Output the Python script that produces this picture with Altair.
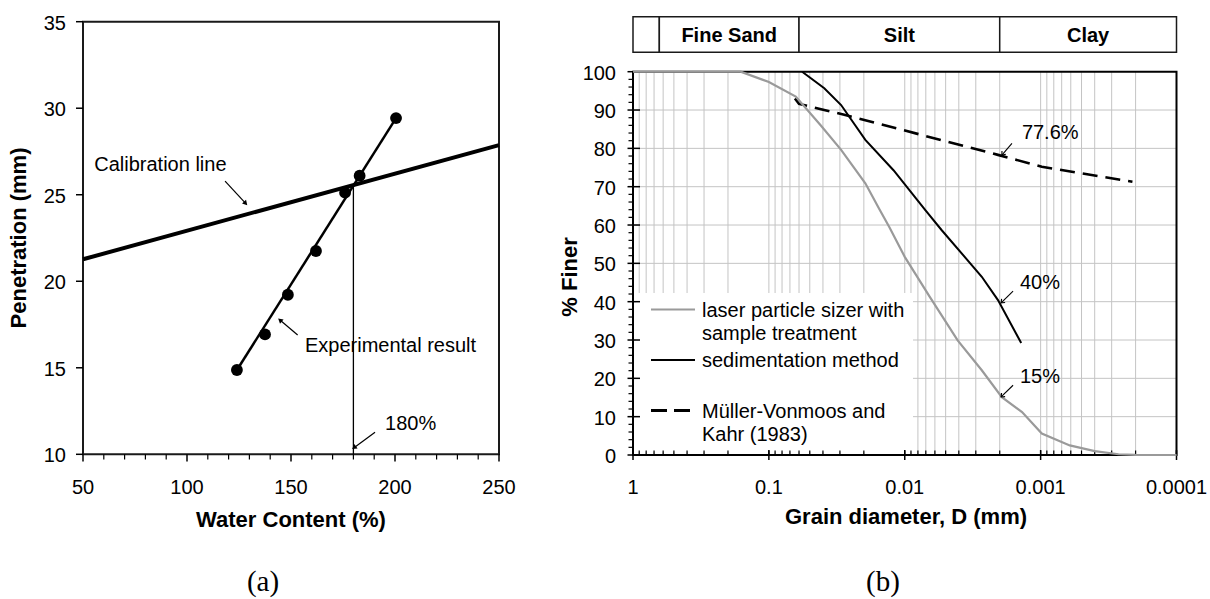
import altair as alt
import pandas as pd

FONT = "Liberation Sans"
SERIF = "Liberation Serif"

# ---------------- panel (a) data ----------------
exp_water = [124.0, 137.5, 148.5, 162.0, 176.0, 183.0, 200.5]
exp_pen = [14.87, 16.93, 19.22, 21.75, 25.12, 26.10, 29.43]
fit_water = [124.0, 200.5]
fit_pen = [14.87, 29.43]
cal_water = [50, 250]
cal_pen = [21.27, 27.87]
ll_water = 180
ll_pen = [10, 25.56]
a_xticks = [50, 100, 150, 200, 250]
a_xminor = [v for v in range(60, 250, 10) if v % 50 != 0]
a_yticks = [10, 15, 20, 25, 30, 35]
a_text = ["Calibration line", "Experimental result", "180%"]
a_text_x = [55.4, 156.7, 195.2]
a_text_y = [26.72, 16.27, 11.75]
a_arrow_x0 = [118.3, 153.2, 190.4]
a_arrow_y0 = [25.79, 16.89, 11.27]
a_arrow_x1 = [128.2, 144.7, 180.3]
a_arrow_y1 = [24.50, 17.76, 10.38]
a_arrow_ang = [47, 220, 144]

# ---------------- panel (b) data ----------------
laser_d = [1.0, 0.1614, 0.1, 0.0634, 0.0413, 0.0294, 0.0195, 0.0154, 0.013, 0.01,
           0.00656, 0.00408, 0.00271, 0.00193, 0.00137, 0.00098, 0.00061, 0.0004,
           0.000267, 0.0002, 0.0001]
laser_p = [100, 100, 97.3, 93.5, 85.9, 79.6, 70.9, 64.2, 59.5, 51.7,
           41.3, 29.9, 22.1, 15.1, 11.2, 5.6, 2.5, 1.0, 0.2, 0.05, 0]
sed_d = [0.0569, 0.0391, 0.0294, 0.0195, 0.0121, 0.00703, 0.00536, 0.00271, 0.00206, 0.00139]
sed_p = [100, 95.7, 91.3, 82.2, 74.3, 63.8, 58.7, 46.5, 40.4, 29.2]
mv_d = [0.0643, 0.060, 0.0274, 0.00206, 0.00098, 0.000211]
mv_p = [93.0, 91.6, 88.7, 78.3, 75.2, 71.3]

b_decades = [1, 0.1, 0.01, 0.001, 0.0001]
b_decade_labels = ["1", "0.1", "0.01", "0.001", "0.0001"]
b_yticks = list(range(0, 101, 10))
b_yminor = [v for v in range(2, 100, 2) if v % 10 != 0]
b_grid_x = [k * 10.0 ** e for e in (-4, -3, -2, -1) for k in range(1, 10)][1:]
b_grid_y = list(range(10, 100, 10))
b_subdiv = [k * 10.0 ** e for e in (-4, -3, -2, -1, 0) for k in range(1, 10) if k * 10.0 ** e <= 1]

band_names = ["", "Fine Sand", "Silt", "Clay"]
band_lo = [1.0, 0.64, 0.06, 0.002]
band_hi = [0.64, 0.06, 0.002, 0.0001]

b_text = ["77.6%", "40%", "15%"]
b_text_x = [0.001374, 0.00142, 0.00142]
b_text_y = [84.1, 44.75, 20.37]
b_arrow_x0 = [0.001626, 0.001595, 0.001595]
b_arrow_y0 = [81.3, 42.74, 18.2]
b_arrow_x1 = [0.001928, 0.001954, 0.001954]
b_arrow_y1 = [78.25, 39.69, 15.14]
b_arrow_ang = [130, 136, 136]

legend_lines = ["laser particle sizer with", "sample treatment", "sedimentation method",
                "Müller-Vonmoos and", "Kahr (1983)"]

# ---------------- scales ----------------
xa = alt.Scale(domain=[50, 250], range=[83, 499], nice=False, zero=False)
ya = alt.Scale(domain=[10, 35], range=[454.3, 21.7], nice=False, zero=False)
xb = alt.Scale(type="log", domain=[0.0001, 1], range=[1176.5, 633], nice=False)
yb = alt.Scale(domain=[0, 100], range=[455, 71.7], nice=False, zero=False)


def XA(f):
    return alt.X(f, type="quantitative", scale=xa, axis=None)


def YA(f):
    return alt.Y(f, type="quantitative", scale=ya, axis=None)


def XB(f):
    return alt.X(f, type="quantitative", scale=xb, axis=None)


def YB(f):
    return alt.Y(f, type="quantitative", scale=yb, axis=None)


def one(t=""):
    return pd.DataFrame({"t": [t]})


def title_text(t, px, py, angle=0):
    kw = dict(font=FONT, fontSize=22, fontWeight="bold", color="black",
              align="center", baseline="middle")
    if angle:
        kw["angle"] = angle
    return alt.Chart(one(t)).mark_text(**kw).encode(
        x=alt.value(px), y=alt.value(py), text="t:N")


# ---------------- panel (a) layers ----------------
frame_a = alt.Chart(pd.DataFrame({"x": [50], "x2": [250], "y": [10], "y2": [35]})).mark_rect(
    filled=False, stroke="#1a1a1a", strokeWidth=2
).encode(x=XA("x"), x2="x2", y=YA("y"), y2="y2")

minor_a = alt.Chart(pd.DataFrame({"x": a_xminor})).mark_rule(color="black", strokeWidth=1.2).encode(
    x=XA("x"), y=alt.value(454.3), y2=alt.value(459.5))
major_ax = alt.Chart(pd.DataFrame({"x": a_xticks})).mark_rule(color="black", strokeWidth=1.5).encode(
    x=XA("x"), y=alt.value(454.3), y2=alt.value(461.5))
major_ay = alt.Chart(pd.DataFrame({"y": a_yticks})).mark_rule(color="black", strokeWidth=1.5).encode(
    y=YA("y"), x=alt.value(76), x2=alt.value(83))
lab_ax = alt.Chart(pd.DataFrame({"v": a_xticks, "t": [str(v) for v in a_xticks]})).mark_text(
    font=FONT, fontSize=20, color="black", align="center", baseline="middle").encode(
    x=XA("v"), y=alt.value(488), text="t:N")
lab_ay = alt.Chart(pd.DataFrame({"v": a_yticks, "t": [str(v) for v in a_yticks]})).mark_text(
    font=FONT, fontSize=20, color="black", align="right", baseline="middle", dy=2).encode(
    y=YA("v"), x=alt.value(66), text="t:N")
title_ax = title_text("Water Content (%)", 291, 520.3)
title_ay = title_text("Penetration (mm)", 18.8, 238, angle=270)

cal = alt.Chart(pd.DataFrame({"x": cal_water, "y": cal_pen})).mark_line(
    color="black", strokeWidth=4).encode(x=XA("x"), y=YA("y"))

vline = alt.Chart(pd.DataFrame({"x": [ll_water], "y": [ll_pen[0]], "y2": [ll_pen[1]]})).mark_rule(
    color="black", strokeWidth=1.3).encode(x=XA("x"), y=YA("y"), y2="y2")

fit = alt.Chart(pd.DataFrame({"x": fit_water, "y": fit_pen})).mark_line(
    color="black", strokeWidth=2.5).encode(x=XA("x"), y=YA("y"))

pts = alt.Chart(pd.DataFrame({"x": exp_water, "y": exp_pen})).mark_circle(
    size=140, color="black", opacity=1).encode(x=XA("x"), y=YA("y"))

txt_a = alt.Chart(pd.DataFrame({"x": a_text_x, "y": a_text_y, "t": a_text})).mark_text(
    align="left", baseline="middle", font=FONT, fontSize=20, color="black"
).encode(x=XA("x"), y=YA("y"), text="t:N")

arr_df_a = pd.DataFrame({"x0": a_arrow_x0, "y0": a_arrow_y0, "x1": a_arrow_x1,
                         "y1": a_arrow_y1, "ang": a_arrow_ang})
arr_a = alt.Chart(arr_df_a).mark_rule(color="black", strokeWidth=1.2).encode(
    x=XA("x0"), y=YA("y0"), x2="x1", y2="y1")
head_a = alt.Chart(arr_df_a).mark_point(shape="triangle-right", filled=True, size=30,
                                        color="black", opacity=1).encode(
    x=XA("x1"), y=YA("y1"), angle=alt.Angle("ang:Q", scale=None))

panel_a = alt.layer(frame_a, minor_a, major_ax, major_ay, lab_ax, lab_ay, title_ax, title_ay,
                    cal, vline, fit, pts, txt_a, arr_a, head_a)

# ---------------- panel (b) layers ----------------
gridv = alt.Chart(pd.DataFrame({"x": b_grid_x})).mark_rule(color="#c4c4c4", strokeWidth=1).encode(
    x=XB("x"), y=alt.value(71.7), y2=alt.value(455))
gridh = alt.Chart(pd.DataFrame({"y": b_grid_y})).mark_rule(color="#c4c4c4", strokeWidth=1).encode(
    y=YB("y"), x=alt.value(633), x2=alt.value(1176.5))

leg_bg = alt.Chart(one()).mark_rect(color="white").encode(
    x=alt.value(636), x2=alt.value(913), y=alt.value(293), y2=alt.value(452))

frame_b = alt.Chart(pd.DataFrame({"x": [1.0], "x2": [0.0001], "y": [0], "y2": [100]})).mark_rect(
    filled=False, stroke="black", strokeWidth=2).encode(x=XB("x"), x2="x2", y=YB("y"), y2="y2")

minor_bx = alt.Chart(pd.DataFrame({"x": b_subdiv})).mark_rule(color="black", strokeWidth=1.2).encode(
    x=XB("x"), y=alt.value(450.5), y2=alt.value(455))
major_bx = alt.Chart(pd.DataFrame({"x": b_decades})).mark_rule(color="black", strokeWidth=1.5).encode(
    x=XB("x"), y=alt.value(450), y2=alt.value(460))
minor_by = alt.Chart(pd.DataFrame({"y": b_yminor})).mark_rule(color="black", strokeWidth=1.2).encode(
    y=YB("y"), x=alt.value(628.5), x2=alt.value(633))
major_by = alt.Chart(pd.DataFrame({"y": b_yticks})).mark_rule(color="black", strokeWidth=1.5).encode(
    y=YB("y"), x=alt.value(627.5), x2=alt.value(640))
lab_bx = alt.Chart(pd.DataFrame({"v": b_decades, "t": b_decade_labels})).mark_text(
    font=FONT, fontSize=20, color="black", align="center", baseline="middle").encode(
    x=XB("v"), y=alt.value(487.5), text="t:N")
lab_by = alt.Chart(pd.DataFrame({"v": b_yticks, "t": [str(v) for v in b_yticks]})).mark_text(
    font=FONT, fontSize=20, color="black", align="right", baseline="middle", dy=2).encode(
    y=YB("v"), x=alt.value(616), text="t:N")
title_bx = title_text("Grain diameter, D (mm)", 906, 517.3)
title_by = title_text("% Finer", 570.3, 277, angle=270)

laser = alt.Chart(pd.DataFrame({"x": laser_d, "y": laser_p, "i": range(len(laser_d))})).mark_line(
    color="#9a9a9a", strokeWidth=2.2).encode(x=XB("x"), y=YB("y"), order="i:Q")
sed = alt.Chart(pd.DataFrame({"x": sed_d, "y": sed_p, "i": range(len(sed_d))})).mark_line(
    color="black", strokeWidth=2).encode(x=XB("x"), y=YB("y"), order="i:Q")
mv = alt.Chart(pd.DataFrame({"x": mv_d, "y": mv_p, "i": range(len(mv_d))})).mark_line(
    color="black", strokeWidth=2.6, strokeDash=[15, 8]).encode(x=XB("x"), y=YB("y"), order="i:Q")

txt_b = alt.Chart(pd.DataFrame({"x": b_text_x, "y": b_text_y, "t": b_text})).mark_text(
    align="left", baseline="middle", font=FONT, fontSize=20, color="black"
).encode(x=XB("x"), y=YB("y"), text="t:N")
arr_df_b = pd.DataFrame({"x0": b_arrow_x0, "y0": b_arrow_y0, "x1": b_arrow_x1,
                         "y1": b_arrow_y1, "ang": b_arrow_ang})
arr_b = alt.Chart(arr_df_b).mark_rule(color="black", strokeWidth=1.1).encode(
    x=XB("x0"), y=YB("y0"), x2="x1", y2="y1")
head_b = alt.Chart(arr_df_b).mark_point(shape="M -1 -0.8 L 0 0 L -1 0.8", filled=False,
                                        size=40, color="black", strokeWidth=1.1,
                                        opacity=1).encode(
    x=XB("x1"), y=YB("y1"), angle=alt.Angle("ang:Q", scale=None))

band_df = pd.DataFrame({"lo": band_lo, "hi": band_hi, "name": band_names,
                        "mid": [(a * b) ** 0.5 for a, b in zip(band_lo, band_hi)]})
band = alt.Chart(band_df).mark_rect(fill="white", stroke="#1a1a1a", strokeWidth=1.5).encode(
    x=XB("lo"), x2="hi", y=alt.value(16.7), y2=alt.value(52.3))
band_txt = alt.Chart(band_df).mark_text(font=FONT, fontSize=20, fontWeight="bold",
                                        color="black", baseline="middle").encode(
    x=XB("mid"), y=alt.value(36), text="name:N")

# custom legend
leg_sym = [
    alt.Chart(one()).mark_rule(color="#9a9a9a", strokeWidth=2.2).encode(
        x=alt.value(651), x2=alt.value(695), y=alt.value(309.5)),
    alt.Chart(one()).mark_rule(color="black", strokeWidth=2).encode(
        x=alt.value(651), x2=alt.value(695), y=alt.value(360)),
    alt.Chart(one()).mark_rule(color="black", strokeWidth=3, strokeDash=[16, 7]).encode(
        x=alt.value(651), x2=alt.value(695), y=alt.value(410.5)),
]
leg_y = [310.5, 333.5, 361, 411.5, 434.5]
leg_txt = [
    alt.Chart(one(t)).mark_text(
        align="left", baseline="middle", font=FONT, fontSize=20, color="black").encode(
        x=alt.value(702), y=alt.value(yy), text="t:N")
    for t, yy in zip(legend_lines, leg_y)
]

panel_b = alt.layer(gridv, gridh, leg_bg, frame_b, minor_bx, major_bx, minor_by, major_by,
                    lab_bx, lab_by, title_bx, title_by,
                    mv, sed, laser, txt_b, arr_b, head_b, band, band_txt,
                    *leg_sym, *leg_txt)

# captions
captions = alt.Chart(pd.DataFrame({"t": ["(a)", "(b)"], "px": [263, 883]})).mark_text(
    font=SERIF, fontSize=29, color="black", baseline="middle").encode(
    x=alt.X("px:Q", scale=None), y=alt.value(581.5), text="t:N")

chart = alt.layer(panel_a, panel_b, captions).resolve_scale(
    x="independent", y="independent"
).properties(
    width=1210, height=599, padding=0,
    autosize=alt.AutoSizeParams(type="none"),
    background="white",
).configure_view(stroke=None)

chart.save("out.html", embed_options={"renderer": "svg", "actions": False})
